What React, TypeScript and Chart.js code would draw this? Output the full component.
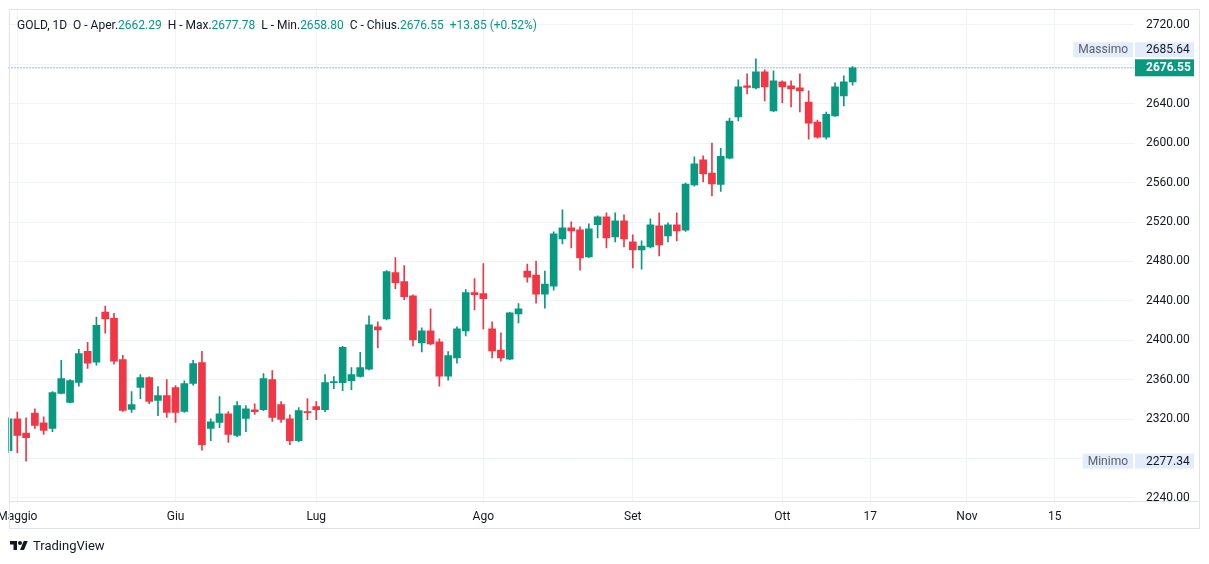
import React, { useEffect, useRef } from "react";
import { Chart, registerables } from "chart.js";

Chart.register(...registerables);

// ---- data (daily candles, GOLD 1D) ----
const opens = [
  2288.0, 2320.3, 2305.7, 2326.1, 2316.2, 2310.4, 2346.1, 2336.9, 2357.3, 2388.7,
  2377.8, 2428.5, 2422.3, 2380.5, 2329.8, 2352.2, 2362.1, 2339.0, 2343.8, 2351.9,
  2327.8, 2356.3, 2377.4, 2310.4, 2316.5, 2325.4, 2303.3, 2320.6, 2329.5, 2329.5,
  2360.1, 2334.6, 2320.3, 2298.2, 2327.5, 2332.6, 2329.5, 2357.0, 2357.0, 2359.1,
  2363.2, 2370.7, 2413.6, 2421.7, 2468.7, 2459.5, 2445.2, 2397.3, 2409.5, 2398.3,
  2363.5, 2382.0, 2409.5, 2448.3, 2447.3, 2411.6, 2390.1, 2380.9, 2426.8, 2470.2,
  2466.1, 2446.8, 2454.8, 2502.9, 2514.1, 2512.1, 2484.5, 2517.2, 2525.3, 2504.9,
  2521.2, 2499.8, 2491.7, 2494.7, 2516.1, 2505.9, 2517.2, 2511.7, 2557.6, 2583.1,
  2569.8, 2558.2, 2584.7, 2626.6, 2658.2, 2656.2, 2672.5, 2632.7, 2662.3, 2658.2,
  2656.2, 2641.8, 2621.5, 2606.2, 2627.6, 2648.0, 2662.29,
];
const highs = [
  2321.5, 2327.1, 2321.3, 2330.5, 2322.3, 2347.9, 2379.5, 2360.0, 2390.7, 2397.9,
  2423.4, 2434.6, 2427.4, 2384.6, 2347.9, 2365.2, 2363.0, 2353.0, 2360.1, 2354.0,
  2358.7, 2379.5, 2388.7, 2320.3, 2342.8, 2327.5, 2337.7, 2333.6, 2335.6, 2366.2,
  2369.3, 2337.7, 2324.4, 2331.6, 2340.7, 2337.7, 2365.2, 2363.2, 2393.8, 2372.3,
  2387.7, 2424.8, 2418.7, 2470.7, 2484.0, 2475.8, 2446.2, 2412.6, 2432.0, 2401.4,
  2388.5, 2413.6, 2451.4, 2462.6, 2477.9, 2418.7, 2407.5, 2428.4, 2437.1, 2477.4,
  2480.4, 2470.2, 2510.0, 2532.5, 2520.2, 2515.1, 2518.2, 2526.3, 2529.4, 2529.4,
  2527.4, 2507.0, 2500.8, 2523.3, 2529.4, 2519.2, 2529.4, 2559.6, 2586.2, 2587.2,
  2600.2, 2594.9, 2625.6, 2664.3, 2670.4, 2685.64, 2674.5, 2673.5, 2663.3, 2663.3,
  2670.4, 2653.1, 2623.5, 2631.7, 2661.3, 2668.4, 2677.78,
];
const lows = [
  2286.0, 2285.9, 2277.34, 2310.4, 2304.3, 2307.3, 2345.5, 2336.3, 2353.3, 2371.3,
  2374.7, 2407.3, 2375.7, 2327.8, 2326.7, 2340.7, 2335.6, 2323.4, 2321.6, 2316.5,
  2326.7, 2354.3, 2288.4, 2298.2, 2311.4, 2296.2, 2302.2, 2307.3, 2324.7, 2328.5,
  2317.6, 2316.5, 2294.1, 2297.1, 2319.3, 2319.3, 2327.5, 2350.9, 2348.9, 2349.9,
  2362.5, 2369.9, 2392.2, 2420.7, 2452.3, 2441.1, 2394.2, 2388.1, 2395.4, 2353.4,
  2359.5, 2376.8, 2404.4, 2430.9, 2411.6, 2382.0, 2378.9, 2380.4, 2417.7, 2459.0,
  2437.6, 2432.5, 2450.9, 2497.8, 2493.7, 2471.2, 2483.9, 2503.9, 2493.7, 2499.8,
  2494.7, 2473.3, 2472.2, 2493.7, 2485.5, 2499.8, 2500.8, 2510.5, 2556.5, 2560.7,
  2546.4, 2551.1, 2584.1, 2622.5, 2650.0, 2655.2, 2642.9, 2632.1, 2640.8, 2636.8,
  2631.7, 2604.1, 2605.1, 2604.1, 2627.1, 2637.8, 2658.80,
];
const closes = [
  2320.3, 2303.3, 2301.2, 2313.5, 2308.4, 2346.8, 2361.1, 2359.1, 2386.6, 2376.7,
  2415.2, 2421.6, 2378.8, 2328.8, 2334.6, 2362.1, 2338.0, 2343.8, 2326.7, 2326.7,
  2356.0, 2376.4, 2294.1, 2317.2, 2325.4, 2304.3, 2333.6, 2330.5, 2327.5, 2361.1,
  2321.6, 2319.6, 2298.2, 2328.5, 2326.5, 2329.5, 2357.0, 2358.1, 2392.8, 2365.2,
  2372.3, 2415.6, 2410.5, 2469.7, 2458.5, 2444.2, 2400.3, 2409.5, 2396.3, 2363.6,
  2384.5, 2411.6, 2448.3, 2446.2, 2442.2, 2389.1, 2382.0, 2427.9, 2432.0, 2464.1,
  2446.8, 2457.0, 2508.0, 2514.1, 2511.0, 2483.5, 2513.1, 2525.3, 2503.9, 2521.2,
  2502.9, 2491.7, 2495.7, 2517.2, 2496.8, 2517.2, 2511.0, 2558.6, 2579.0, 2568.8,
  2558.6, 2586.8, 2622.5, 2657.2, 2656.5, 2672.5, 2657.2, 2663.3, 2657.2, 2655.2,
  2653.1, 2620.4, 2606.2, 2629.4, 2657.2, 2662.3, 2676.55,
];
const futureSlots = 32;
const timeTicks: [number, string][] = [
  [1, "Maggio"], [19, "Giu"], [35, "Lug"], [54, "Ago"], [71, "Set"],
  [88, "Ott"], [98, "17"], [109, "Nov"], [119, "15"],
];
const priceTicks = [2240, 2280, 2320, 2360, 2400, 2440, 2480, 2520, 2560, 2600, 2640, 2680, 2720];
const hiddenPriceLabels = [2280, 2680];
const priceRange = [2236.85, 2735.2];
const symbolName = "GOLD, 1D";
const changeText = "+13.85 (+0.52%)";

const UP = "#089981";
const DOWN = "#F23645";
const GRID = "#f0f3fa";
const TEXT = "#131722";
const FONT = "Roboto, 'Noto Sans', sans-serif";

const slotLabels = Array.from({ length: opens.length + futureSlots }, (_, i) => String(i));
const tickMap = new Map(timeTicks);

const markerPlugin = {
  id: "priceMarkers",
  afterDraw(chart: any) {
    const { ctx, chartArea, scales } = chart;
    const y = scales.y;
    const right = chartArea.right;
    ctx.save();
    // time-axis band below the price scale
    ctx.fillStyle = "#ffffff";
    ctx.fillRect(right, chartArea.bottom + 0.5, chart.width - right, 30);

    const last = closes[closes.length - 1];
    const maxHigh = Math.max(...highs);
    const minLow = Math.min(...lows);
    const closeY = y.getPixelForValue(last);
    const hiY = Math.min(y.getPixelForValue(maxHigh), closeY - 18);
    const loY = y.getPixelForValue(minLow);
    ctx.font = `12px ${FONT}`;
    ctx.textBaseline = "middle";

    const drawMarker = (cy: number, name: string, value: number) => {
      const nameW = ctx.measureText(name).width + 10;
      ctx.fillStyle = "#e3ecfa";
      ctx.fillRect(right - nameW - 1, cy - 7.5, nameW, 15);
      ctx.fillRect(right + 1, cy - 7.5, 59, 15);
      ctx.fillStyle = "#5d606b";
      ctx.textAlign = "center";
      ctx.fillText(name, right - 1 - nameW / 2, cy + 0.5);
      ctx.fillStyle = TEXT;
      ctx.textAlign = "left";
      ctx.fillText(value.toFixed(2), right + 12, cy + 0.5);
    };
    drawMarker(hiY, "Massimo", maxHigh);
    drawMarker(loY, "Minimo", minLow);

    ctx.fillStyle = UP;
    ctx.fillRect(right + 1, closeY - 8.5, 59, 17);
    ctx.fillStyle = "#ffffff";
    ctx.font = `bold 12px ${FONT}`;
    ctx.textAlign = "left";
    ctx.fillText(last.toFixed(2), right + 12, closeY + 0.5);
    ctx.restore();
  },
};

export default function App() {
  const ref = useRef<HTMLCanvasElement | null>(null);

  useEffect(() => {
    if (!ref.current) return;
    const colors = opens.map((o, i) => (closes[i] >= o ? UP : DOWN));
    const last = closes[closes.length - 1];
    const chart = new Chart(ref.current, {
      type: "bar",
      data: {
        labels: slotLabels,
        datasets: [
          {
            type: "line",
            data: [
              { x: slotLabels[0], y: last },
              { x: slotLabels[slotLabels.length - 1], y: last },
            ] as any,
            borderColor: UP,
            borderWidth: 1,
            borderDash: [1, 2],
            pointRadius: 0,
            order: 0,
          } as any,
          {
            type: "bar",
            data: opens.map((o, i) => [Math.min(o, closes[i]), Math.max(o, closes[i])]) as any,
            backgroundColor: colors,
            barThickness: 7,
            minBarLength: 1,
            grouped: false,
            borderWidth: 0,
            order: 1,
          } as any,
          {
            type: "bar",
            data: lows.map((l, i) => [l, highs[i]]) as any,
            backgroundColor: colors,
            barThickness: 1,
            grouped: false,
            borderWidth: 0,
            order: 2,
          } as any,
        ],
      },
      options: {
        responsive: false,
        maintainAspectRatio: false,
        animation: false,
        layout: { padding: { left: 8.5, right: 9, top: 10, bottom: 36 } },
        plugins: { legend: { display: false }, tooltip: { enabled: false } },
        scales: {
          x: {
            type: "category",
            offset: false,
            grid: {
              offset: false,
              drawTicks: false,
              color: (c: any) => (tickMap.has(c.index) ? GRID : "rgba(0,0,0,0)"),
            },
            border: { display: false },
            ticks: {
              autoSkip: false,
              maxRotation: 0,
              minRotation: 0,
              padding: 9,
              color: TEXT,
              font: { family: FONT, size: 12 },
              callback: (_v: any, i: number) => tickMap.get(i) ?? "",
            },
            afterFit: (s: any) => {
              s.height = 27;
              s.paddingLeft = 0;
              s.paddingRight = 0;
            },
          },
          y: {
            position: "right",
            min: priceRange[0],
            max: priceRange[1],
            afterBuildTicks: (s: any) => {
              s.ticks = priceTicks.map((v) => ({ value: v }));
            },
            grid: { color: GRID, drawTicks: false },
            border: { display: false },
            ticks: {
              padding: 12,
              color: TEXT,
              font: { family: FONT, size: 12 },
              callback: (v: any) => (hiddenPriceLabels.includes(v) ? "" : Number(v).toFixed(2)),
            },
            afterFit: (s: any) => {
              s.width = 66;
              s.paddingTop = 0;
              s.paddingBottom = 0;
            },
          },
        } as any,
      },
      plugins: [markerPlugin],
    });
    return () => chart.destroy();
  }, []);

  const num = { color: UP };
  return (
    <div style={{ position: "absolute", left: 0, top: 0, width: 1209, height: 564, background: "#fff", fontFamily: FONT }}>
      <canvas ref={ref} width={1209} height={564} style={{ position: "absolute", left: 0, top: 0 }} />
      <div style={{ position: "absolute", left: 9, top: 9, width: 1189, height: 518, border: "1px solid #e0e3eb", pointerEvents: "none" }} />
      <div style={{ position: "absolute", left: 9, top: 501, width: 1190, height: 1, background: "#e0e3eb" }} />
      <div style={{ position: "absolute", left: 17, top: 16, fontSize: 12, color: TEXT, whiteSpace: "pre", lineHeight: "18px" }}>
        {symbolName}
        {"  O - Aper."}<span style={num}>{opens[opens.length - 1].toFixed(2)}</span>
        {"  H - Max."}<span style={num}>{highs[highs.length - 1].toFixed(2)}</span>
        {"  L - Min."}<span style={num}>{lows[lows.length - 1].toFixed(2)}</span>
        {"  C - Chius."}<span style={num}>{closes[closes.length - 1].toFixed(2)}</span>
        {"  "}<span style={num}>{changeText}</span>
      </div>
      <div style={{ position: "absolute", left: 10, top: 538, display: "flex", alignItems: "center", gap: 5, color: TEXT, fontSize: 13 }}>
        <svg width="18" height="14" viewBox="0 0 36 28">
          <path d="M14 22H7V11H0V4h14v18zM28 22h-8l7.5-18h8L28 22z" fill={TEXT} />
          <circle cx="20" cy="8" r="4" fill={TEXT} />
        </svg>
        <span>TradingView</span>
      </div>
    </div>
  );
}
